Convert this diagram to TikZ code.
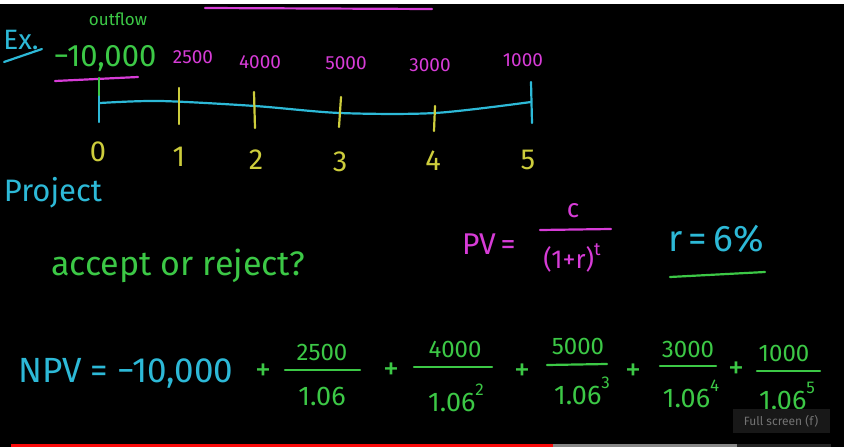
\documentclass[tikz,border=0pt]{standalone}
\usepackage{fontspec}
\setmainfont{Fira Sans}
\definecolor{kcyan}{RGB}{45,185,215}
\definecolor{kgreen}{RGB}{60,200,70}
\definecolor{kmag}{RGB}{215,60,215}
\definecolor{kyel}{RGB}{205,205,60}
\definecolor{tipbg}{RGB}{24,24,24}
\definecolor{tiptx}{RGB}{115,115,115}
\definecolor{barred}{RGB}{250,10,10}
\definecolor{bargray}{RGB}{135,135,135}
\definecolor{bardark}{RGB}{38,38,38}
\newcommand{\fs}[1]{\fontsize{#1}{#1}\selectfont}
\begin{document}
\begin{tikzpicture}[x=1pt,y=-1pt,
  pen/.style={line width=2.2pt,line cap=round},
  txt/.style={inner sep=0pt,anchor=center},
  flowlbl/.style={txt,text=kmag,font=\fs{19}},
  ticklbl/.style={txt,text=kyel,font=\fs{29}},
  ytick/.style={pen,draw=kyel},
  gnum/.style={txt,text=kgreen,font=\fs{24}},
  gden/.style={txt,text=kgreen,font=\fs{27}},
  gplus/.style={txt,text=kgreen,font=\fs{32}},
  fracbar/.style={pen,draw=kgreen}]
% background and frame
\fill[black] (0,0) rectangle (844,447);
\useasboundingbox (0,0) rectangle (844,447);
\fill[white] (0,0) rectangle (844,4);
% top magenta stroke
\coordinate (ta) at (205,8);
\coordinate (tb) at (432,9);
\draw[pen,draw=kmag] (ta) -- (tb);
% Ex.
\node[txt,text=kcyan,font=\fs{28}] (ex) at (21,40) {Ex.};
\coordinate (exa) at (4,62);
\coordinate (exb) at (42,49);
\draw[pen,draw=kcyan] (exa) -- (exb);
% outflow
\node[txt,text=kgreen,font=\fs{17}] (outflow) at (118,19) {outflow};
\node[txt,text=kgreen,font=\fs{31}] (init) at (105,59) {−10,000};
\coordinate (ua) at (55,81);
\coordinate (ub) at (138,77);
\draw[pen,draw=kmag] (ua) -- (ub);
% cash flows
\node[flowlbl] (c1) at (193,57) {2500};
\node[flowlbl] (c2) at (260,62) {4000};
\node[flowlbl] (c3) at (346,63) {5000};
\node[flowlbl] (c4) at (430,65) {3000};
\node[flowlbl] (c5) at (523,60) {1000};
% timeline
\coordinate (p0) at (100,103);
\coordinate (p1) at (160,101);
\coordinate (p2) at (255,106);
\coordinate (p3) at (340,113);
\coordinate (p4) at (435,113);
\coordinate (p5) at (531,102);
\draw[pen,draw=kcyan] plot[smooth,tension=0.5] coordinates {(p0) (p1) (p2) (p3) (p4) (p5)};
% tick 0
\coordinate (t0a) at (99,78);
\coordinate (t0m) at (99,95);
\coordinate (t0b) at (99,122);
\draw[pen,draw=kcyan] (t0m) -- (t0b);
\draw[pen,draw=kgreen] (t0a) -- (t0m);
\coordinate (t1a) at (179,88);  \coordinate (t1b) at (179,124);
\coordinate (t2a) at (254,92);  \coordinate (t2b) at (255,128);
\coordinate (t3a) at (341,97);  \coordinate (t3b) at (339,127);
\coordinate (t4a) at (435,106); \coordinate (t4b) at (434,131);
\draw[ytick] (t1a) -- (t1b);
\draw[ytick] (t2a) -- (t2b);
\draw[ytick] (t3a) -- (t3b);
\draw[ytick] (t4a) -- (t4b);
\coordinate (t5a) at (531,82); \coordinate (t5b) at (532,123);
\draw[pen,draw=kcyan] (t5a) -- (t5b);
% period labels
\node[ticklbl] (n0) at (98,152) {0};
\node[ticklbl] (n1) at (179,157) {1};
\node[ticklbl] (n2) at (256,160) {2};
\node[ticklbl] (n3) at (340,162) {3};
\node[ticklbl] (n4) at (433,161) {4};
\node[ticklbl] (n5) at (528,160) {5};
% Project
\node[txt,text=kcyan,font=\fs{31}] (proj) at (53,193) {Project};
\node[txt,text=kgreen,font=\fs{34}] (acc) at (178,266) {accept or reject?};
% PV formula
\node[txt,text=kmag,font=\fs{30}] (pv) at (489,244) {PV\,=};
\node[txt,text=kmag,font=\fs{26}] (pvn) at (573,211) {c};
\node[txt,text=kmag,font=\fs{26}] (pvd) at (572,258) {(1+r)\raisebox{1.0ex}{\fs{18}t}};
\coordinate (pva) at (540,230);
\coordinate (pvb) at (611,229);
\draw[pen,draw=kmag] (pva) -- (pvb);
% r = 6%
\node[txt,text=kcyan,font=\fs{37}] (rate) at (716,239) {r\,=\,6\%};
\coordinate (ra) at (670,277);
\coordinate (rb) at (765,272);
\draw[pen,draw=kgreen] (ra) -- (rb);
% NPV
\node[txt,text=kcyan,font=\fs{35}] (npv) at (126,373) {NPV = −10,000};
\node[gplus] (pl1) at (263,372) {+};
\node[gnum] (f1n) at (322,352) {2500};
\node[gden] (f1d) at (322,396) {1.06};
\coordinate (f1a) at (285,370); \coordinate (f1b) at (360,370);
\draw[fracbar] (f1a) -- (f1b);
\node[gplus] (pl2) at (391,371) {+};
\node[gnum] (f2n) at (455,349) {4000};
\node[gden] (f2d) at (456,398) {1.06\raisebox{1.1ex}{\fs{17}2}};
\coordinate (f2a) at (414,367); \coordinate (f2b) at (492,367);
\draw[fracbar] (f2a) -- (f2b);
\node[gplus] (pl3) at (522,372) {+};
\node[gnum] (f3n) at (578,346) {5000};
\node[gden] (f3d) at (582,391) {1.06\raisebox{1.1ex}{\fs{17}3}};
\coordinate (f3a) at (547,365); \coordinate (f3b) at (607,364);
\draw[fracbar] (f3a) -- (f3b);
\node[gplus] (pl4) at (633,372) {+};
\node[gnum] (f4n) at (688,349) {3000};
\node[gden] (f4d) at (691,394) {1.06\raisebox{1.1ex}{\fs{17}4}};
\coordinate (f4a) at (660,366); \coordinate (f4b) at (716,366);
\draw[fracbar] (f4a) -- (f4b);
\node[gplus] (pl5) at (736,370) {+};
\node[gnum] (f5n) at (784,353) {1000};
\node[gden] (f5d) at (787,396) {1.06\raisebox{1.1ex}{\fs{17}5}};
\coordinate (f5a) at (757,371); \coordinate (f5b) at (820,371);
\draw[fracbar] (f5a) -- (f5b);
% player overlay
\fill[tipbg] (733,409) rectangle (830,433);
\node[txt,text=tiptx,font=\fs{12}] (tip) at (781,421) {Full screen (f)};
\fill[barred] (11,444) rectangle (553,447);
\fill[bargray] (553,444) rectangle (737,447);
\fill[bardark] (737,444) rectangle (831,447);
\end{tikzpicture}
\end{document}
